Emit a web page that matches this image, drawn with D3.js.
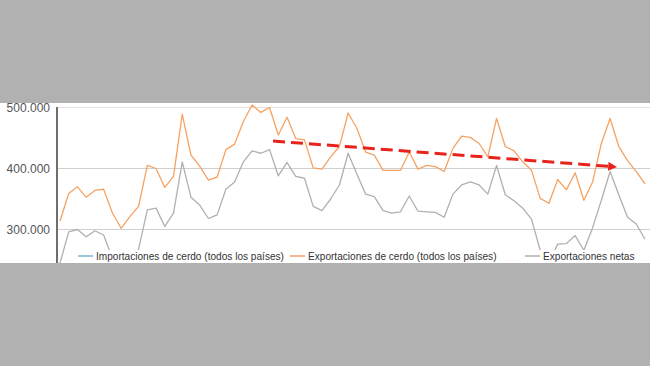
<!DOCTYPE html>
<html>
<head>
<meta charset="utf-8">
<script src="https://cdn.jsdelivr.net/npm/d3@7"></script>
<style>
  html, body { margin: 0; padding: 0; background: #b1b1b1; }
  svg { display: block; }
</style>
</head>
<body>
<script>
// miles de toneladas, un punto por mes
var exportaciones = [314, 359, 370, 353, 364, 366, 327, 302, 321, 338,
    405, 400, 369, 387, 489, 422, 404, 381, 386, 431,
    440, 477, 504, 492, 500, 455, 484, 449, 447, 401,
    399, 419, 436, 491, 466, 427, 422, 397, 397, 397,
    427, 399, 405, 403, 395, 433, 453, 451, 441, 419,
    482, 436, 429, 411, 397, 351, 343, 382, 365, 393,
    348, 378, 441, 482, 436, 413, 395, 375];

var netas = [245, 296, 300, 288, 298, 291, 253, 238, 244, 268,
    332, 335, 305, 327, 411, 353, 340, 318, 324, 366,
    378, 411, 429, 425, 431, 388, 410, 387, 384, 338,
    331, 350, 373, 425, 391, 358, 354, 331, 327, 329,
    355, 330, 329, 328, 320, 358, 373, 378, 373, 358,
    405, 357, 347, 335, 317, 266, 245, 276, 277, 290,
    266, 303, 348, 395, 357, 320, 309, 284];

var yTicks = [300, 400, 500];
var tendencia = [{i: 24.4, v: 445}, {i: 63.3, v: 403}];

var series = [
    {name: 'Importaciones de cerdo (todos los países)', color: '#78b4d6', values: null},
    {name: 'Exportaciones de cerdo (todos los países)', color: '#f5a262', values: exportaciones},
    {name: 'Exportaciones netas', color: '#b0b0b0', values: netas}
];

var width = 650,
    height = 366;

var x = d3.scaleLinear().domain([0, exportaciones.length - 1]).range([60, 645]),
    y = d3.scaleLinear().domain([300, 500]).range([229.5, 107.5]);

var svg = d3.select('body').append('svg')
    .attr('width', width)
    .attr('height', height);

// banda blanca del grafico
svg.append('rect')
    .attr('x', 0).attr('y', 103)
    .attr('width', width).attr('height', 160)
    .attr('fill', '#fff');

svg.append('defs').append('clipPath')
    .attr('id', 'plot')
    .append('rect')
    .attr('x', 57).attr('y', 103)
    .attr('width', width - 57).attr('height', 160);

svg.select('defs').append('marker')
    .attr('id', 'flecha')
    .attr('viewBox', '0 0 10 10')
    .attr('refX', 5).attr('refY', 5)
    .attr('markerWidth', 3).attr('markerHeight', 3)
    .attr('orient', 'auto')
    .append('path')
    .attr('d', 'M0,0L10,5L0,10z')
    .attr('fill', '#e8231c');

// rejilla
svg.append('g')
    .selectAll('line')
    .data(yTicks)
    .join('line')
    .attr('x1', 57).attr('x2', width)
    .attr('y1', function(d) { return y(d); })
    .attr('y2', function(d) { return y(d); })
    .attr('stroke', function(d) { return d === 500 ? '#e2e2e2' : '#d0d0d0'; })
    .attr('stroke-width', 1);

svg.append('g')
    .selectAll('text')
    .data(yTicks)
    .join('text')
    .attr('x', 50)
    .attr('y', function(d) { return y(d) + 4.5; })
    .attr('text-anchor', 'end')
    .attr('font-family', 'Liberation Sans, Arial, sans-serif')
    .attr('font-size', 12)
    .attr('fill', '#555')
    .text(function(d) { return d3.format(',')(d * 1000).replace(/,/g, '.'); });

var line = d3.line()
    .x(function(d, i) { return x(i); })
    .y(function(d) { return y(d); });

var plot = svg.append('g').attr('clip-path', 'url(#plot)');

plot.selectAll('path.serie')
    .data(series.filter(function(s) { return s.values; }).reverse())
    .join('path')
    .attr('class', 'serie')
    .attr('d', function(s) { return line(s.values); })
    .attr('fill', 'none')
    .attr('stroke', function(s) { return s.color; })
    .attr('stroke-width', 1.3)
    .attr('stroke-linejoin', 'round');

// linea de tendencia roja
svg.append('line')
    .attr('x1', x(tendencia[0].i)).attr('y1', y(tendencia[0].v))
    .attr('x2', x(tendencia[1].i)).attr('y2', y(tendencia[1].v))
    .attr('stroke', '#e8231c')
    .attr('stroke-width', 3)
    .attr('stroke-dasharray', '12,6')
    .attr('marker-end', 'url(#flecha)');

// eje vertical
svg.append('line')
    .attr('x1', 57).attr('x2', 57)
    .attr('y1', 107).attr('y2', 263)
    .attr('stroke', '#6e6e6e')
    .attr('stroke-width', 2);

// leyenda
svg.append('rect')
    .attr('x', 74).attr('y', 250)
    .attr('width', width - 74).attr('height', 13)
    .attr('fill', '#fff');

var legendX = [78, 290, 525];

var legend = svg.append('g')
    .selectAll('g')
    .data(series)
    .join('g')
    .attr('transform', function(d, i) { return 'translate(' + legendX[i] + ',256)'; });

legend.append('line')
    .attr('x1', 0).attr('x2', 15)
    .attr('stroke', function(d) { return d.color; })
    .attr('stroke-width', 1.5);

legend.append('text')
    .attr('x', 18)
    .attr('y', 4)
    .attr('font-family', 'Liberation Sans, Arial, sans-serif')
    .attr('font-size', 10.1)
    .attr('fill', '#333')
    .text(function(d) { return d.name; });
</script>
</body>
</html>
